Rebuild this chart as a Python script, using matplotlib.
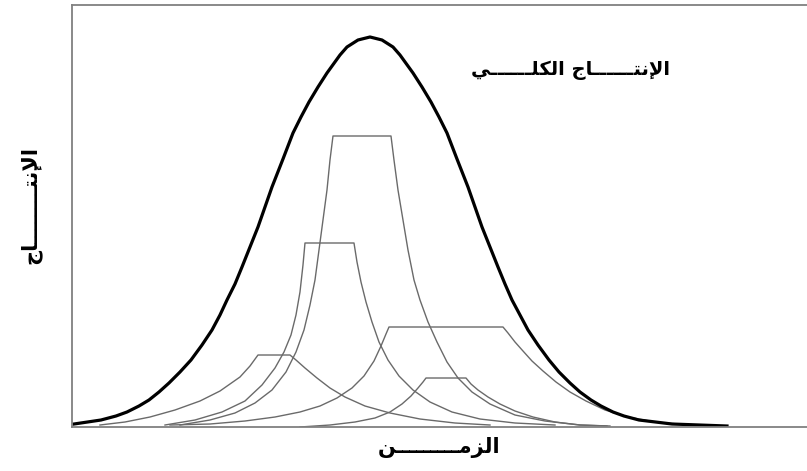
import matplotlib.pyplot as plt

# matplotlib ne fait pas le shaping arabe : on ecrit les formes de presentation
# (U+FExx) directement, dans l'ordre visuel (de gauche a droite)
K = "\u0640"  # tatweel
titre_total = "\ufef2" + K * 6 + "\ufee0\ufedc\ufedf\ufe8d \ufe9d\ufe8e" + K * 6 + "\ufe98\ufee7\ufef9\ufe8d"  # الإنتـــاج الكلـــي
label_temps = "\ufee6" + K * 9 + "\ufee3\ufeb0\ufedf\ufe8d"  # الزمـــن
label_production = "\ufe9d\ufe8e" + K * 8 + "\ufe98\ufee7\ufef9\ufe8d"  # الإنتـــاج

# production totale (courbe epaisse)
temps_total = [2, 29, 44, 55, 67, 77, 87, 97, 108, 119, 130, 140, 148, 155, 163, 170, 178, 186, 193, 200,
               211, 221, 229, 237, 246, 255, 268, 275, 286, 298,
               310, 321, 328, 341, 350, 359, 367, 375, 385, 396, 403, 410, 418, 426, 433, 440, 448,
               456, 466, 477, 487, 498, 508, 519, 529, 541, 552, 567, 600, 655]
prod_total = [3, 7, 11, 15, 21, 27, 35, 44, 55, 67, 82, 97, 112, 127, 143, 160, 180, 200, 220, 240,
              268, 294, 310, 325, 340, 354, 372, 380, 387, 390,
              387, 380, 372, 354, 340, 325, 310, 294, 268, 240, 220, 200, 180, 160, 143, 127, 112,
              97, 82, 67, 55, 44, 35, 27, 21, 15, 11, 7, 3, 1]

# champs individuels (courbes fines avec plateau)
temps_champ_a = [108, 138, 163, 183, 200, 214, 224, 232, 238, 243, 247, 251, 255, 258, 261,
                 319, 322, 326, 331, 336, 342, 348, 356, 365, 375, 386, 400, 418, 443, 473, 508, 538]
prod_champ_a = [2, 7, 14, 24, 37, 55, 75, 97, 122, 147, 177, 207, 237, 267, 291,
                291, 267, 237, 207, 177, 147, 127, 105, 85, 65, 49, 35, 23, 12, 6, 2, 1]

temps_champ_b = [93, 123, 150, 173, 190, 203, 212, 219, 224, 228, 231, 233,
                 282, 285, 289, 294, 300, 307, 316, 327, 341, 358, 380, 408, 443, 483]
prod_champ_b = [2, 7, 15, 26, 42, 59, 75, 92, 112, 135, 162, 184,
                184, 165, 145, 125, 105, 85, 67, 51, 37, 25, 15, 8, 4, 2]

temps_champ_c = [28, 53, 78, 103, 128, 148, 168, 178, 186,
                 218, 224, 233, 245, 258, 273, 293, 318, 348, 383, 418]
prod_champ_c = [2, 5, 10, 17, 26, 36, 50, 61, 72,
                72, 67, 59, 49, 39, 30, 21, 14, 8, 4, 2]

temps_champ_d = [98, 138, 173, 203, 228, 248, 265, 280, 292, 302, 309, 314, 317,
                 431, 436, 443, 451, 460, 471, 484, 498, 514, 533, 556, 583, 618]
prod_champ_d = [2, 3, 6, 10, 15, 21, 29, 39, 51, 66, 81, 93, 100,
                100, 94, 85, 76, 66, 56, 45, 35, 26, 17, 10, 5, 2]

temps_champ_e = [228, 258, 283, 303, 318, 330, 339, 346, 351, 354,
                 394, 399, 406, 416, 428, 443, 461, 483, 508, 535]
prod_champ_e = [0, 2, 5, 9, 15, 23, 31, 39, 45, 49,
                49, 43, 37, 30, 23, 16, 10, 5, 2, 1]

champs = [
    (temps_champ_a, prod_champ_a),
    (temps_champ_b, prod_champ_b),
    (temps_champ_c, prod_champ_c),
    (temps_champ_d, prod_champ_d),
    (temps_champ_e, prod_champ_e),
]


def tracer_courbes():
    fig = plt.figure(figsize=(8.07, 4.71), dpi=100)
    ax = fig.add_axes([0.0892, 0.0934, 0.9108, 0.896])

    # les champs en gris fin
    for t, p in champs:
        ax.plot(t, p, color='#6a6a6a', linewidth=1.0, solid_joinstyle='round')

    # la production totale en noir epais
    ax.plot(temps_total, prod_total, color='black', linewidth=2.3, solid_joinstyle='round')

    ax.set_xlim(0, 735)
    ax.set_ylim(0, 422)
    ax.set_xticks([])
    ax.set_yticks([])
    for cote in ['left', 'bottom', 'top']:
        ax.spines[cote].set_color('#808080')
        ax.spines[cote].set_linewidth(1.3)
    ax.spines['right'].set_visible(False)

    ax.text(0.678, 0.846, titre_total, transform=ax.transAxes, ha='center', va='center',
            fontsize=14, fontweight='bold', family=['DejaVu Sans'])
    ax.set_xlabel(label_temps, fontsize=15, fontweight='bold', family=['DejaVu Sans'], labelpad=7)
    ax.set_ylabel(label_production, fontsize=15, fontweight='bold', family=['DejaVu Sans'])
    ax.yaxis.set_label_coords(-0.042, 0.526)

    fig.savefig('out.png', dpi=100)


if __name__ == "__main__":
    tracer_courbes()
